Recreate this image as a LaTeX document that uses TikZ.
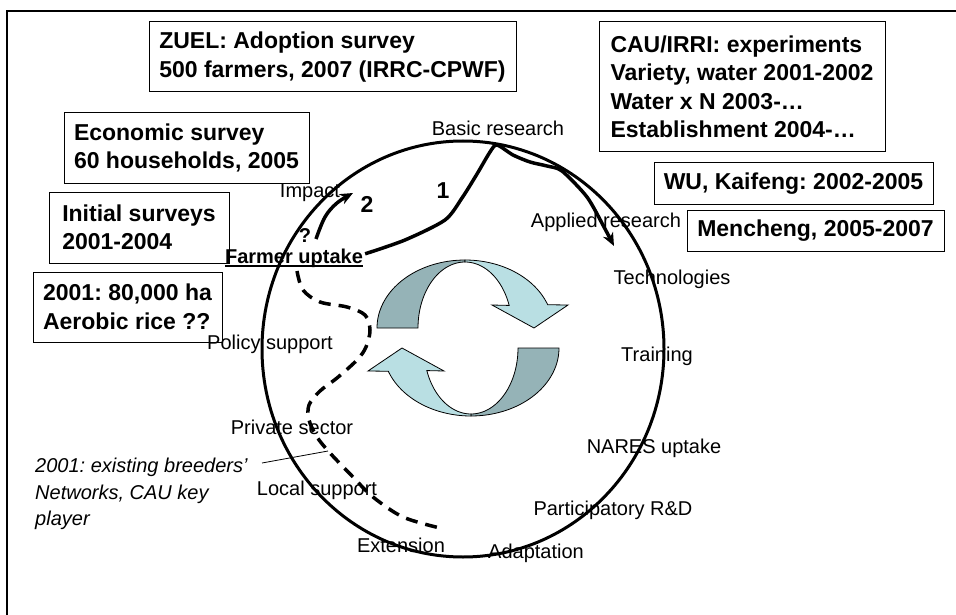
\documentclass[tikz,border=0pt]{standalone}
\usepackage{fontspec}
\setmainfont{Liberation Sans}
\usetikzlibrary{arrows.meta,calc}
\definecolor{cycdark}{HTML}{95B3B7}
\definecolor{cyclight}{HTML}{B9DFE3}
\frenchspacing
\begin{document}
\begin{tikzpicture}[x=1pt,y=-1pt,
  lbl/.style={font=\fontsize{20}{24}\selectfont, inner sep=0pt, anchor=base},
  bx/.style={draw, line width=1pt, font=\bfseries\fontsize{23}{28.5}\selectfont, align=left, inner sep=0pt},
  num/.style={font=\bfseries\fontsize{23}{28}\selectfont, inner sep=0pt, anchor=base},
  ring/.style={line width=3pt},
  flow/.style={line width=3.5pt, -{Stealth[length=13pt,width=11pt,inset=4pt]}},
  dsh/.style={line width=3.5pt, dash pattern=on 12pt off 8pt},
  cyc/.style={draw=black, line width=0.8pt}
]
\useasboundingbox (0,0) rectangle (956,615);
\fill[white] (0,0) rectangle (956,615);
% frame
\draw[line width=2pt] (7,620) -- (7,11) -- (960,11);

% central cycle arrows
\filldraw[cyc, fill=cycdark] plot[domain=180:90, samples=40] ({465+88*cos(\x)},{328-68*sin(\x)}) -- plot[domain=90:180, samples=40] ({465+47*cos(\x)},{328-66*sin(\x)}) -- cycle;
\filldraw[cyc, fill=cyclight] plot[domain=90:20, samples=40] ({465+88*cos(\x)},{328-68*sin(\x)}) -- (568,305) -- (534,328) -- (492,305) -- plot[domain=20:90, samples=40] ({465+47*cos(\x)},{328-66*sin(\x)}) -- cycle;
\begin{scope}[rotate around={180:(468,338)}]
\filldraw[cyc, fill=cycdark] plot[domain=180:90, samples=40] ({465+88*cos(\x)},{328-68*sin(\x)}) -- plot[domain=90:180, samples=40] ({465+47*cos(\x)},{328-66*sin(\x)}) -- cycle;
\filldraw[cyc, fill=cyclight] plot[domain=90:20, samples=40] ({465+88*cos(\x)},{328-68*sin(\x)}) -- (568,305) -- (534,328) -- (492,305) -- plot[domain=20:90, samples=40] ({465+47*cos(\x)},{328-66*sin(\x)}) -- cycle;
\end{scope}

% big circle
\draw[ring] (463,349) ellipse [x radius=201pt, y radius=208pt];

% boxes
\node[bx, minimum width=367pt, minimum height=70pt] (zuel) at (332.5,57) {ZUEL: Adoption survey\\500 farmers, 2007 (IRRC-CPWF)};
\node[bx, minimum width=286pt, minimum height=130pt] (cau) at (742,87) {CAU/IRRI: experiments\\Variety, water 2001-2002\\Water x N 2003-…\\Establishment 2004-…};
\node[bx, minimum width=245pt, minimum height=70pt] (econ) at (186.5,148) {Economic survey\\60 households, 2005};
\node[bx, minimum width=180pt, minimum height=71pt] (init) at (139,227.5) {Initial surveys\\2001-2004};
\node[bx, minimum width=189pt, minimum height=70pt] (area) at (127.5,307) {2001: 80,000 ha\\Aerobic rice ??};
\node[bx, minimum width=279pt, minimum height=41pt] (wu) at (793.5,183.5) {WU, Kaifeng: 2002-2005};
\node[bx, minimum width=257pt, minimum height=41pt] (men) at (815.5,230.5) {Mencheng, 2005-2007};

% labels on the circle
\node[lbl] (basic) at (498,136) {Basic research};
\node[lbl] (impact) at (310,197) {Impact};
\node[lbl] (applied) at (606,227) {Applied research};
\node[lbl] (tech) at (672,284) {Technologies};
\node[lbl] (train) at (657,361) {Training};
\node[lbl] (nares) at (654,453) {NARES uptake};
\node[lbl] (part) at (613,515) {Participatory R\&D};
\node[lbl] (adapt) at (536,558) {Adaptation};
\node[lbl] (ext) at (401,552) {Extension};
\node[lbl] (local) at (317,495) {Local support};
\node[lbl] (priv) at (292,434) {Private sector};
\node[lbl] (policy) at (270,349) {Policy support};
\node[lbl, font=\bfseries\fontsize{20}{24}\selectfont] (fu) at (294,263) {Farmer uptake};
\draw[line width=1.8pt] ($(fu.base west)+(0,3)$) -- ($(fu.base east)+(0,3)$);
\node[num] (one) at (443,198) {1};
\node[num] (two) at (367,212) {2};
\node[lbl, font=\bfseries\fontsize{20}{24}\selectfont] (q) at (305,242) {?};

% note
\node[lbl, font=\itshape\fontsize{20}{26.5}\selectfont, align=left, anchor=north west] (note) at (35,458) {2001: existing breeders’\\Networks, CAU key\\player};
\coordinate (noteA) at (262,463);
\coordinate (noteB) at (328,451);
\draw[line width=0.8pt] (noteA) -- (noteB);

% flow 1
\coordinate (c1s) at ($(fu.east)+(2,-4)$);
\coordinate (c1e) at (614,246);
\draw[flow] plot[smooth, tension=0.45] coordinates {(c1s) (405,240) (445,220) (462,198) (477,174) (490,152) (497,145) (513,155) (530,162) (547,166) (562,171) (587,197) (604,227) (c1e)};

% flow 2
\coordinate (c2s) at (316,239);
\coordinate (c2e) at (353,193);
\draw[flow] plot[smooth, tension=0.6] coordinates {(c2s) (325,217) (337,203) (c2e)};

% dashed path
\coordinate (dsE) at (440,528);
\draw[dsh] plot[smooth, tension=0.55] coordinates {(297,271) (303,290) (320,302) (347,307) (365,315) (370,330) (366,347) (357,360) (337,378) (320,391) (309,405) (309,420) (317,437) (330,453) (353,477) (373,497) (403,517) (dsE)};
\end{tikzpicture}
\end{document}
